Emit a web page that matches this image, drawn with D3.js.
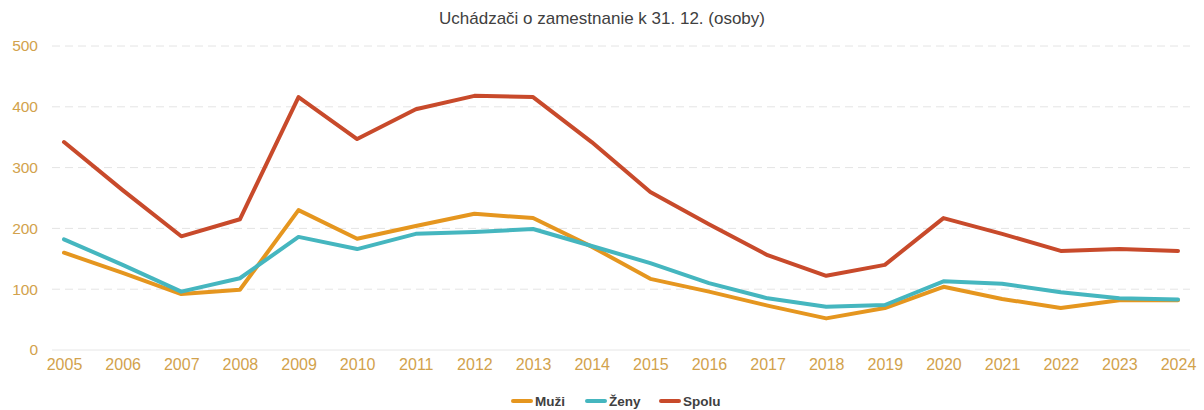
<!DOCTYPE html>
<html>
<head>
<meta charset="utf-8">
<script src="https://cdn.jsdelivr.net/npm/d3@7"></script>
<style>
  body { margin: 0; background: #fff; }
  svg { display: block; font-family: "Liberation Sans", Arial, sans-serif; }
</style>
</head>
<body>
<svg></svg>
<script>
// data
var years = [2005, 2006, 2007, 2008, 2009, 2010, 2011, 2012, 2013, 2014,
             2015, 2016, 2017, 2018, 2019, 2020, 2021, 2022, 2023, 2024];
var muzi  = [160, 127, 92, 99, 230, 183, 204, 224, 217, 170,
             117, 96, 73, 52, 69, 104, 84, 69, 82, 82];
var zeny  = [182, 140, 96, 118, 186, 166, 191, 194, 199, 171,
             143, 110, 85, 71, 74, 113, 109, 95, 85, 83];
var spolu = [342, 263, 187, 215, 416, 347, 396, 418, 416, 342,
             260, 207, 156, 122, 140, 217, 191, 163, 166, 163];
var yTicks = [0, 100, 200, 300, 400, 500];
var seriesNames = ["Muži", "Ženy", "Spolu"];

var orange = "#e5961f", teal = "#45b6bf", red = "#c84a2b";
var tickColor = "#d2a24c";

var svgWidth = 1204, svgHeight = 410;
var svg = d3.select("svg")
    .attr("width", svgWidth)
    .attr("height", svgHeight);

var xScale = d3.scalePoint()
    .domain(years)
    .range([64, 1178]);

var yScale = d3.scaleLinear()
    .domain([0, 500])
    .range([350, 46]);

// title
svg.append("text")
    .attr("x", 602)
    .attr("y", 24)
    .attr("text-anchor", "middle")
    .attr("font-size", 17)
    .attr("fill", "#404040")
    .text("Uchádzači o zamestnanie k 31. 12. (osoby)");

// gridlines
svg.append("g").selectAll("line")
    .data(yTicks)
    .join("line")
    .attr("x1", 52)
    .attr("x2", 1190)
    .attr("y1", d => yScale(d))
    .attr("y2", d => yScale(d))
    .attr("stroke", d => d == 0 ? "#e6e6e6" : "#e4e4e4")
    .attr("stroke-width", 1)
    .attr("stroke-dasharray", d => d == 0 ? null : "8,5");

// y axis
var y_axis = d3.axisLeft(yScale).tickValues(yTicks).tickSize(0).tickPadding(0);
var gy = svg.append("g")
    .attr("transform", "translate(38,0)")
    .call(y_axis);
gy.select(".domain").remove();
gy.selectAll("text")
    .attr("font-size", 15.5)
    .attr("fill", tickColor)
    .attr("font-family", "Liberation Sans, Arial, sans-serif");

// x axis
var x_axis = d3.axisBottom(xScale).tickSize(0).tickPadding(9);
var gx = svg.append("g")
    .attr("transform", "translate(0,350)")
    .call(x_axis);
gx.select(".domain").remove();
gx.selectAll("text")
    .attr("font-size", 16)
    .attr("fill", tickColor)
    .attr("font-family", "Liberation Sans, Arial, sans-serif");

// lines
var line = d3.line()
    .x((d, i) => xScale(years[i]))
    .y(d => yScale(d));

var series = [muzi, zeny, spolu];
var colors = [orange, teal, red];
for (var i = 0; i < series.length; i++) {
    svg.append("path")
        .datum(series[i])
        .attr("d", line)
        .attr("fill", "none")
        .attr("stroke", colors[i])
        .attr("stroke-width", 4)
        .attr("stroke-linejoin", "round")
        .attr("stroke-linecap", "round");
}

// legend
var legendX = [513, 587, 661];
var legend = svg.append("g");
for (var i = 0; i < seriesNames.length; i++) {
    legend.append("line")
        .attr("x1", legendX[i])
        .attr("x2", legendX[i] + 18)
        .attr("y1", 401)
        .attr("y2", 401)
        .attr("stroke", colors[i])
        .attr("stroke-width", 4)
        .attr("stroke-linecap", "round");
    legend.append("text")
        .attr("x", legendX[i] + 22)
        .attr("y", 406)
        .attr("font-size", 13.5)
        .attr("font-weight", "bold")
        .attr("fill", "#404040")
        .text(seriesNames[i]);
}
</script>
</body>
</html>
